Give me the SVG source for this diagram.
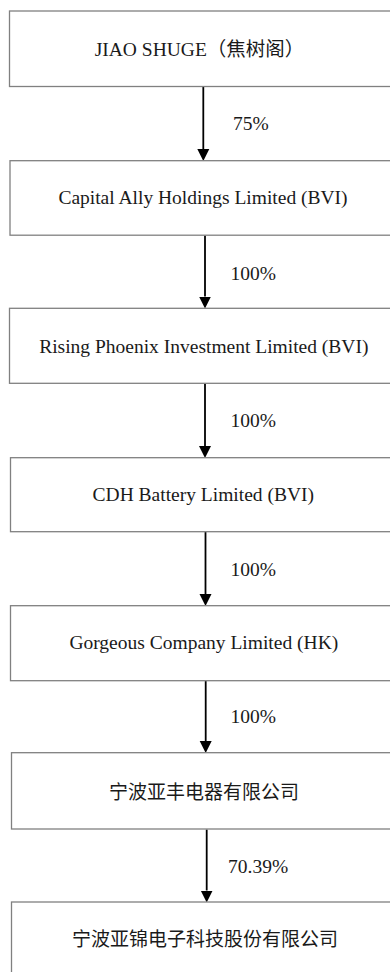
<svg xmlns="http://www.w3.org/2000/svg" width="390" height="972" viewBox="0 0 390 972">
<defs>
<style>
.box{fill:#ffffff;stroke:#808080;stroke-width:1.3}
.t{font-family:"Liberation Serif","Noto Sans CJK SC",serif;font-size:19.5px;fill:#1a1a1a;text-anchor:middle}
.cjk{font-family:"Liberation Serif","Noto Sans CJK SC",serif;font-size:19px;fill:#1a1a1a;text-anchor:middle}
.lbl{font-family:"Liberation Serif",serif;font-size:19.5px;fill:#1a1a1a}
.arr{stroke:#000;stroke-width:1.8;fill:none}
</style>
<marker id="ah" markerUnits="userSpaceOnUse" markerWidth="14" markerHeight="14" viewBox="0 -7 14 14" refX="0" refY="0" orient="auto">
<path d="M0,-6 L12,0 L0,6 z" fill="#000"/>
</marker>
</defs>
<rect width="390" height="972" fill="#ffffff"/>
<g id="connectors">
<line class="arr" x1="203.3" y1="87" x2="203.3" y2="149" marker-end="url(#ah)"/>
<line class="arr" x1="205" y1="235.5" x2="205" y2="296.5" marker-end="url(#ah)"/>
<line class="arr" x1="205" y1="383.5" x2="205" y2="446" marker-end="url(#ah)"/>
<line class="arr" x1="205.5" y1="532" x2="205.5" y2="594" marker-end="url(#ah)"/>
<line class="arr" x1="205.7" y1="681" x2="205.7" y2="741" marker-end="url(#ah)"/>
<line class="arr" x1="206.7" y1="829.5" x2="206.7" y2="890.5" marker-end="url(#ah)"/>
<text class="lbl" x="233" y="130">75%</text>
<text class="lbl" x="230.5" y="280">100%</text>
<text class="lbl" x="230.5" y="427">100%</text>
<text class="lbl" x="230.5" y="576">100%</text>
<text class="lbl" x="230.5" y="722.5">100%</text>
<text class="lbl" x="228" y="872.5">70.39%</text>
</g>
<g id="n1">
<rect class="box" x="9.5" y="11" width="395" height="75.5"/>
<text class="t" x="199.5" y="56">JIAO SHUGE（焦树阁）</text>
</g>
<g id="n2">
<rect class="box" x="10" y="160.7" width="395" height="74.5"/>
<text class="t" x="203" y="204">Capital Ally Holdings Limited (BVI)</text>
</g>
<g id="n3">
<rect class="box" x="9.5" y="308.3" width="395" height="75"/>
<text class="t" x="203.8" y="353.3">Rising Phoenix Investment Limited (BVI)</text>
</g>
<g id="n4">
<rect class="box" x="10.5" y="457.7" width="395" height="74"/>
<text class="t" x="203.3" y="501">CDH Battery Limited (BVI)</text>
</g>
<g id="n5">
<rect class="box" x="10.5" y="605.7" width="395" height="75"/>
<text class="t" x="203.8" y="649">Gorgeous Company Limited (HK)</text>
</g>
<g id="n6">
<rect class="box" x="11.5" y="752.7" width="395" height="76.3"/>
<text class="cjk" x="204" y="799">宁波亚丰电器有限公司</text>
</g>
<g id="n7">
<rect class="box" x="11.5" y="902" width="395" height="76"/>
<text class="cjk" x="205" y="945.5">宁波亚锦电子科技股份有限公司</text>
</g>
</svg>
